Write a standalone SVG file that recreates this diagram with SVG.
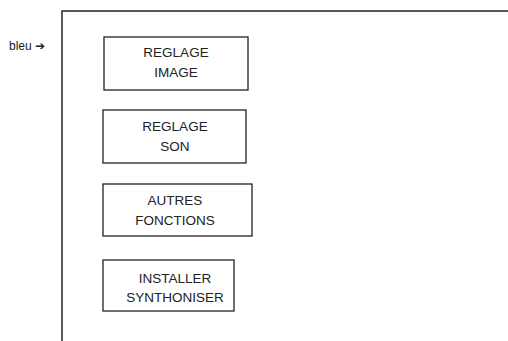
<svg xmlns="http://www.w3.org/2000/svg" width="508" height="341" viewBox="0 0 508 341">
<style>
.box{fill:#fff;stroke:#222;stroke-width:1.3}
.t{font-family:"Liberation Sans",Arial,sans-serif;font-size:13.5px;fill:#222;text-anchor:middle}
.l{font-family:"Liberation Sans",Arial,sans-serif;font-size:12px;fill:#222}
.frame{fill:none;stroke:#222;stroke-width:1.5}
</style>
<rect width="508" height="341" fill="#fff"/>
<g id="connectors">
<path class="frame" d="M62,341 V11 H508"/>
</g>
<g id="label-bleu">
<text class="l" x="9" y="50">bleu ➔</text>
</g>
<g id="node-reglage-image">
<rect class="box" x="104" y="37" width="144" height="53"/>
<text class="t" x="176" y="57">REGLAGE</text>
<text class="t" x="176" y="77">IMAGE</text>
</g>
<g id="node-reglage-son">
<rect class="box" x="103" y="110" width="143" height="53"/>
<text class="t" x="175" y="131">REGLAGE</text>
<text class="t" x="175" y="151">SON</text>
</g>
<g id="node-autres-fonctions">
<rect class="box" x="103" y="184" width="149" height="52"/>
<text class="t" x="175" y="205">AUTRES</text>
<text class="t" x="175" y="225">FONCTIONS</text>
</g>
<g id="node-installer">
<rect class="box" x="103" y="260" width="131" height="51"/>
<text class="t" x="175" y="283">INSTALLER</text>
<text class="t" x="175" y="302">SYNTHONISER</text>
</g>
</svg>
